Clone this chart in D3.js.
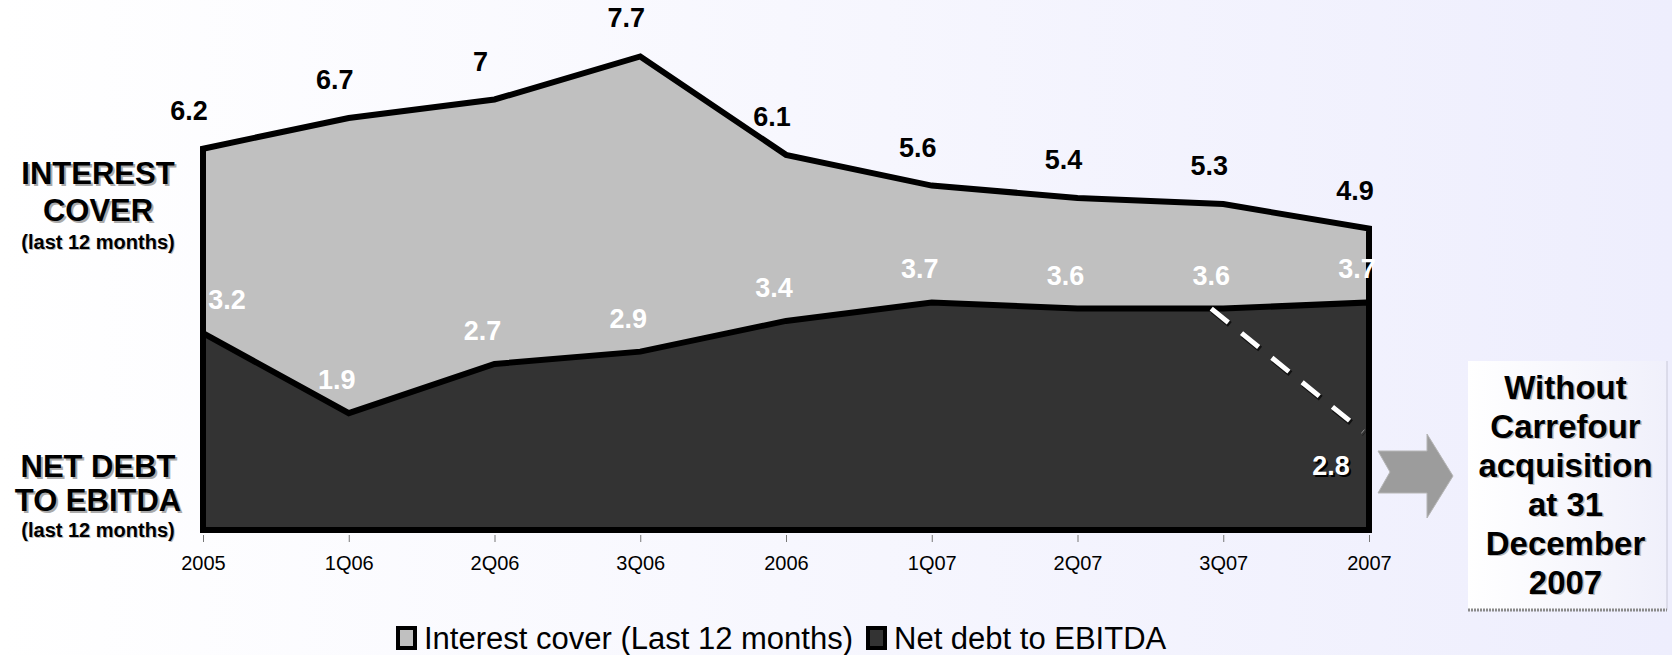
<!DOCTYPE html>
<html>
<head>
<meta charset="utf-8">
<script src="https://cdn.jsdelivr.net/npm/d3@7"></script>
<style>
	html, body { margin: 0; padding: 0; background: #fff; }
	svg { display: block; font-family: "Liberation Sans", Arial, Helvetica, sans-serif; }
</style>
</head>
<body>
<svg id="chart" width="1672" height="655"></svg>
<script>

var categories		= ["2005", "1Q06", "2Q06", "3Q06", "2006", "1Q07", "2Q07", "3Q07", "2007"];
var interestCover	= [6.2, 6.7, 7, 7.7, 6.1, 5.6, 5.4, 5.3, 4.9];
var netDebt			= [3.2, 1.9, 2.7, 2.9, 3.4, 3.7, 3.6, 3.6, 3.7];

// pro-forma line without Carrefour, from 3Q07 to year end
var proFormaFrom	= 3.6;
var proFormaTo		= 1.6;
var proFormaLabel	= "2.8";

var legendLabels	= ["Interest cover (Last 12 months)", "Net debt to EBITDA"];
var boxLines		= ["Without", "Carrefour", "acquisition", "at 31", "December", "2007"];

var W = 1672, H = 655;
var svg = d3.select("#chart");

// background wash
var defs = svg.append("defs");
var bg = defs.append("linearGradient").attr("id", "bg").attr("x1", 0).attr("x2", 1).attr("y1", 0).attr("y2", 0);
bg.append("stop").attr("offset", "0%").attr("stop-color", "#ffffff");
bg.append("stop").attr("offset", "100%").attr("stop-color", "#eeeefd");

var boxBg = defs.append("linearGradient").attr("id", "boxbg").attr("x1", 0).attr("x2", 1).attr("y1", 0).attr("y2", 0);
boxBg.append("stop").attr("offset", "0%").attr("stop-color", "#ffffff");
boxBg.append("stop").attr("offset", "100%").attr("stop-color", "#f0f0fb");

svg.append("rect").attr("width", W).attr("height", H).attr("fill", "url(#bg)");

var x = d3.scalePoint().domain(categories).range([203, 1369]);
var y = d3.scaleLinear().domain([0, 8]).range([530, 38]);

function shadowText(g, txt, px, py, size, fill, shadow, off) {
	g.append("text")
		.attr("x", px + off).attr("y", py + off)
		.attr("text-anchor", "middle").attr("dominant-baseline", "central")
		.attr("font-size", size).attr("font-weight", "bold")
		.attr("fill", shadow).text(txt);
	g.append("text")
		.attr("x", px).attr("y", py)
		.attr("text-anchor", "middle").attr("dominant-baseline", "central")
		.attr("font-size", size).attr("font-weight", "bold")
		.attr("fill", fill).text(txt);
}

var area = d3.area()
	.x(function(d, i) { return x(categories[i]); })
	.y0(y(0))
	.y1(function(d) { return y(d); });

svg.append("path")
	.datum(interestCover)
	.attr("d", area)
	.attr("fill", "#c0c0c0")
	.attr("stroke", "#000")
	.attr("stroke-width", 6)
	.attr("stroke-linejoin", "miter");

svg.append("path")
	.datum(netDebt)
	.attr("d", area)
	.attr("fill", "#333333")
	.attr("stroke", "#000")
	.attr("stroke-width", 6)
	.attr("stroke-linejoin", "miter");

// axis
var axis = svg.append("g")
	.attr("transform", "translate(0," + (y(0) + 5) + ")")
	.call(d3.axisBottom(x).tickSize(7).tickPadding(14));
axis.select(".domain").remove();
axis.selectAll(".tick line").attr("stroke", "#777").attr("stroke-width", 1);
axis.selectAll(".tick text")
	.attr("font-size", 20)
	.attr("font-family", "Liberation Sans, Arial, sans-serif")
	.attr("fill", "#000");

// dashed pro-forma line
var n = categories.length;
var dashLine = [
	[x(categories[n - 2]) - 12, y(proFormaFrom)],
	[x(categories[n - 1]) - 6, y(proFormaTo)]
];
svg.append("path")
	.attr("d", d3.line()(dashLine))
	.attr("stroke", "#111").attr("stroke-width", 6)
	.attr("stroke-dasharray", "22,17")
	.attr("transform", "translate(1.5,2)");
svg.append("path")
	.attr("d", d3.line()(dashLine))
	.attr("stroke", "#fff").attr("stroke-width", 5)
	.attr("stroke-dasharray", "22,17");

// value labels
var labels = svg.append("g");
interestCover.forEach(function(v, i) {
	labels.append("text")
		.attr("x", x(categories[i]) - 14)
		.attr("y", y(v) - 38)
		.attr("text-anchor", "middle").attr("dominant-baseline", "central")
		.attr("font-size", 27).attr("font-weight", "bold")
		.attr("fill", "#000")
		.text(v);
});
netDebt.forEach(function(v, i) {
	var px = Math.max(x(categories[i]) - 12, x(categories[0]) + 24);
	labels.append("text")
		.attr("x", px)
		.attr("y", y(v) - 33)
		.attr("text-anchor", "middle").attr("dominant-baseline", "central")
		.attr("font-size", 27).attr("font-weight", "bold")
		.attr("fill", "#fff")
		.text(v);
});
shadowText(labels, proFormaLabel, x(categories[n - 1]) - 38, y(proFormaTo) + 34, 27, "#fff", "#000", 2);

// side titles
var side = svg.append("g");
shadowText(side, "INTEREST", 98, 173, 31, "#000", "#aaa", 2);
shadowText(side, "COVER", 98, 210, 31, "#000", "#aaa", 2);
shadowText(side, "(last 12 months)", 98, 242, 20, "#000", "#bbb", 1);
shadowText(side, "NET DEBT", 98, 466, 31, "#000", "#aaa", 2);
shadowText(side, "TO EBITDA", 98, 500, 31, "#000", "#aaa", 2);
shadowText(side, "(last 12 months)", 98, 530, 20, "#000", "#bbb", 1);

// arrow
var ax = x(categories[n - 1]) + 9;
var ay = 476;
var arrowPts = [
	[ax, ay - 25], [ax + 49, ay - 25], [ax + 49, ay - 42], [ax + 75, ay],
	[ax + 49, ay + 42], [ax + 49, ay + 17], [ax, ay + 17], [ax + 12, ay - 4]
];
svg.append("polygon")
	.attr("points", arrowPts.map(function(p) { return p.join(","); }).join(" "))
	.attr("fill", "#9c9c9c")
	.attr("stroke", "#b5b5b5")
	.attr("stroke-width", 1);

// note box
var bx = 1468, by = 361, bw = 199, bh = 249;
svg.append("rect")
	.attr("x", bx).attr("y", by).attr("width", bw).attr("height", bh)
	.attr("fill", "url(#boxbg)");
svg.append("line")
	.attr("x1", bx + bw).attr("x2", bx + bw).attr("y1", by).attr("y2", by + bh)
	.attr("stroke", "#c8c8d8").attr("stroke-width", 1);
svg.append("line")
	.attr("x1", bx).attr("x2", bx + bw).attr("y1", by + bh).attr("y2", by + bh)
	.attr("stroke", "#8a8a8a").attr("stroke-width", 3)
	.attr("stroke-dasharray", "2,1");
boxLines.forEach(function(t, i) {
	shadowText(svg, t, bx + bw / 2 - 2, by + 26 + i * 39, 33, "#000", "#bbb", 1.5);
});

// legend
var legend = svg.append("g").attr("transform", "translate(0,638)");
var legendItems = [
	{ label: legendLabels[0], fill: "#c0c0c0", x: 396 },
	{ label: legendLabels[1], fill: "#333333", x: 866 }
];
legendItems.forEach(function(d) {
	legend.append("rect")
		.attr("x", d.x + 2).attr("y", -10).attr("width", 17).attr("height", 20)
		.attr("fill", d.fill).attr("stroke", "#000").attr("stroke-width", 4);
	legend.append("text")
		.attr("x", d.x + 28).attr("y", 0)
		.attr("dominant-baseline", "central")
		.attr("font-size", 31)
		.attr("fill", "#000")
		.text(d.label);
});

</script>
</body>
</html>
